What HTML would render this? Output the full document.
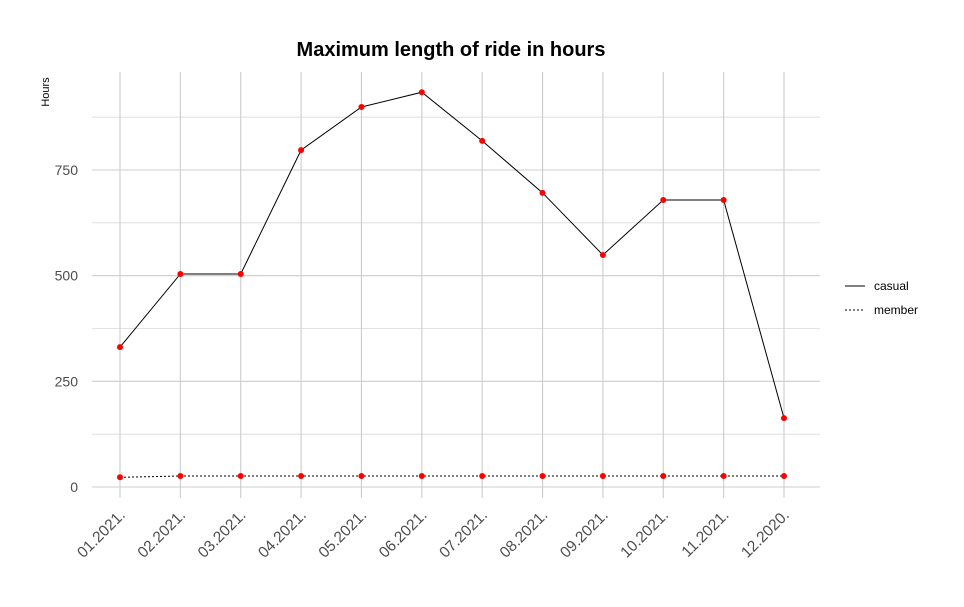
<!DOCTYPE html>
<html><head><meta charset="utf-8"><style>
body{margin:0;background:#fff;}
svg{display:block;font-family:"Liberation Sans",Arial,sans-serif;}
</style></head><body>
<svg id="chart" width="964" height="607">
<rect width="964" height="607" fill="#fff"/>
<text x="451" y="56" text-anchor="middle" font-size="20" font-weight="bold" fill="#000">Maximum length of ride in hours</text>
<text transform="translate(49,92) rotate(-90)" text-anchor="middle" font-size="11" fill="#000">Hours</text>
<g id="grid"></g><g id="axes"></g><g id="series"></g>
<g>
<g><line x1="845" x2="865" y1="286" y2="286" stroke="#000" stroke-width="1"/><text x="874" y="290" font-size="12" fill="#000">casual</text></g>
<g><line x1="845" x2="865" y1="310" y2="310" stroke="#000" stroke-width="1" stroke-dasharray="2,2"/><text x="874" y="314" font-size="12" fill="#000">member</text></g>
</g>
</svg>
<script>
const categories=["01.2021.","02.2021.","03.2021.","04.2021.","05.2021.","06.2021.","07.2021.","08.2021.","09.2021.","10.2021.","11.2021.","12.2020."];
const casualValues=[331,504,504,797,899,934,819,696,549,679,679,163];
const memberValues=[23,26,26,26,26,26,26,26,26,26,26,26];
const yTicks=[0,250,500,750];
const yMinor=[125,375,625,875];
const NS="http://www.w3.org/2000/svg";
const x=i=>120+i*(784-120)/11;
const y=v=>487-v*(487-170)/750;
function mk(t,a,p){const e=document.createElementNS(NS,t);for(const k in a)e.setAttribute(k,a[k]);p.appendChild(e);return e;}
const grid=document.getElementById('grid'),axes=document.getElementById('axes'),ser=document.getElementById('series');
yMinor.forEach(v=>{const l=mk('line',{x1:92,x2:820,y1:y(v),y2:y(v),stroke:'#d9d9d9','stroke-width':0.8},grid);

});
yTicks.forEach(v=>{const l=mk('line',{x1:92,x2:820,y1:y(v),y2:y(v),stroke:'#cccccc','stroke-width':1.1},grid);


const t=mk('text',{x:78,y:y(v)+5,'text-anchor':'end','font-size':14,fill:'#4d4d4d'},axes);t.textContent=v;

});
categories.forEach((c,i)=>{const l=mk('line',{x1:x(i),x2:x(i),y1:72,y2:498,stroke:'#cccccc','stroke-width':1.1},grid);


const t=mk('text',{transform:`translate(${x(i)+6},${516}) rotate(-45)`,'text-anchor':'end','font-size':15.5,fill:'#4d4d4d'},axes);t.textContent=c;

});
function series(vals,name,dash){
const p=mk('polyline',{points:vals.map((v,i)=>x(i)+','+y(v)).join(' '),fill:'none',stroke:'#000','stroke-width':1,'stroke-dasharray':dash},ser);


vals.forEach((v,i)=>{const c=mk('circle',{cx:x(i),cy:y(v),r:3,fill:'#ff0000'},ser);

});}
series(casualValues,'casual','none');
series(memberValues,'member','2,2');
</script>
</body></html>
